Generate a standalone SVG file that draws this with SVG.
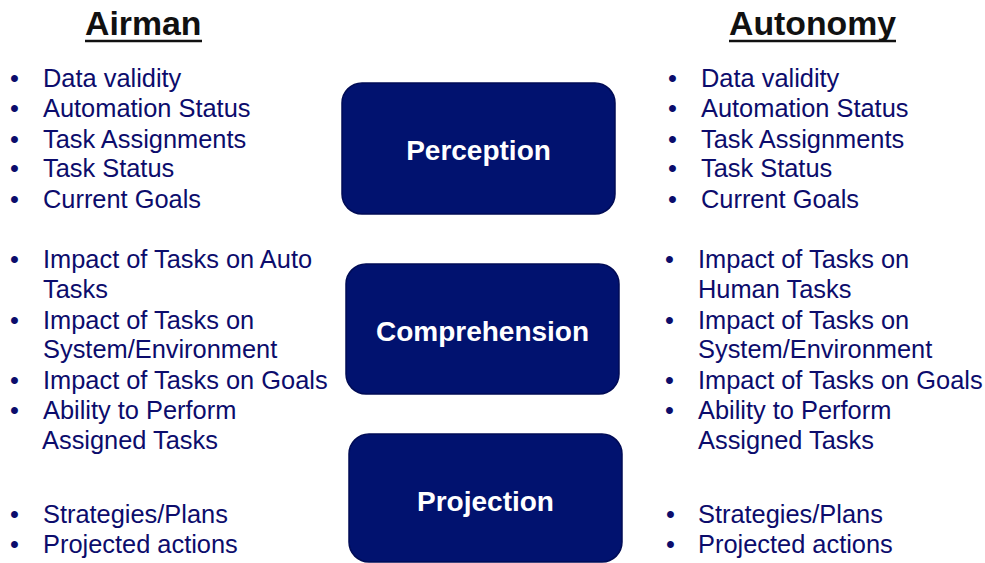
<svg xmlns="http://www.w3.org/2000/svg" width="985" height="563" viewBox="0 0 985 563">
<style>
.hd{font-family:"Liberation Sans",Arial,sans-serif;font-size:33.8px;font-weight:bold;fill:#111}
.ul{stroke:#111;stroke-width:2.5}
.it{font-family:"Liberation Sans",Arial,sans-serif;font-size:25.4px;fill:#0c0c6c}
.box{fill:#01126f;stroke:#000b55;stroke-width:1.5}
.bt{font-family:"Liberation Sans",Arial,sans-serif;font-size:28px;font-weight:bold;fill:#fff;text-anchor:middle}
</style>
<rect width="985" height="563" fill="#fff"/>
<g id="header-airman">
<text class="hd" x="85" y="35">Airman</text>
<line class="ul" x1="85" y1="41" x2="202" y2="41"/>
</g>
<g id="header-autonomy">
<text class="hd" x="729" y="35">Autonomy</text>
<line class="ul" x1="729" y1="41" x2="896" y2="41"/>
</g>
<g id="perception">
<rect class="box" x="342" y="83" width="273" height="131" rx="20"/>
<text class="bt" x="478.5" y="160">Perception</text>
</g>
<g id="comprehension">
<rect class="box" x="346" y="264" width="273" height="130" rx="20"/>
<text class="bt" x="482.5" y="341">Comprehension</text>
</g>
<g id="projection">
<rect class="box" x="349" y="434" width="273" height="128" rx="20"/>
<text class="bt" x="485.5" y="511">Projection</text>
</g>
<g id="connectors"/>
<g id="airman-list">
<text class="it" x="10" y="87">•</text><text class="it" x="43" y="87">Data validity</text>
<text class="it" x="10" y="117">•</text><text class="it" x="43" y="117">Automation Status</text>
<text class="it" x="10" y="148">•</text><text class="it" x="43" y="148">Task Assignments</text>
<text class="it" x="10" y="177">•</text><text class="it" x="43" y="177">Task Status</text>
<text class="it" x="10" y="208">•</text><text class="it" x="43" y="208">Current Goals</text>
<text class="it" x="10" y="268">•</text><text class="it" x="43" y="268">Impact of Tasks on Auto</text>
<text class="it" x="43" y="298">Tasks</text>
<text class="it" x="10" y="329">•</text><text class="it" x="43" y="329">Impact of Tasks on</text>
<text class="it" x="43" y="358">System/Environment</text>
<text class="it" x="10" y="389">•</text><text class="it" x="43" y="389">Impact of Tasks on Goals</text>
<text class="it" x="10" y="419">•</text><text class="it" x="43" y="419">Ability to Perform</text>
<text class="it" x="42" y="449">Assigned Tasks</text>
<text class="it" x="10" y="523">•</text><text class="it" x="43" y="523">Strategies/Plans</text>
<text class="it" x="10" y="553">•</text><text class="it" x="43" y="553">Projected actions</text>
</g>
<g id="autonomy-list">
<text class="it" x="668" y="87">•</text><text class="it" x="701" y="87">Data validity</text>
<text class="it" x="668" y="117">•</text><text class="it" x="701" y="117">Automation Status</text>
<text class="it" x="668" y="148">•</text><text class="it" x="701" y="148">Task Assignments</text>
<text class="it" x="668" y="177">•</text><text class="it" x="701" y="177">Task Status</text>
<text class="it" x="668" y="208">•</text><text class="it" x="701" y="208">Current Goals</text>
<text class="it" x="665" y="268">•</text><text class="it" x="698" y="268">Impact of Tasks on</text>
<text class="it" x="698" y="298">Human Tasks</text>
<text class="it" x="665" y="329">•</text><text class="it" x="698" y="329">Impact of Tasks on</text>
<text class="it" x="698" y="358">System/Environment</text>
<text class="it" x="665" y="389">•</text><text class="it" x="698" y="389">Impact of Tasks on Goals</text>
<text class="it" x="665" y="419">•</text><text class="it" x="698" y="419">Ability to Perform</text>
<text class="it" x="698" y="449">Assigned Tasks</text>
<text class="it" x="666" y="523">•</text><text class="it" x="698" y="523">Strategies/Plans</text>
<text class="it" x="666" y="553">•</text><text class="it" x="698" y="553">Projected actions</text>
</g>
</svg>
